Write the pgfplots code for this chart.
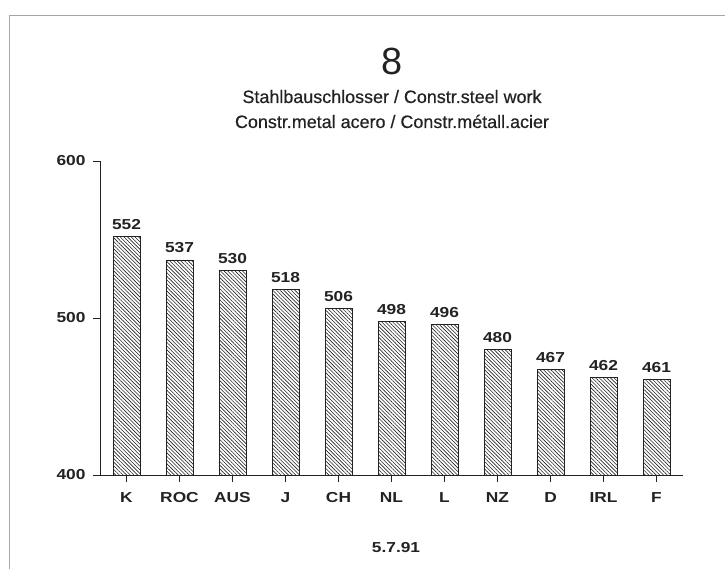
\documentclass[border=0pt]{standalone}
\usepackage{fontspec}
\setmainfont{Liberation Sans}
\newfontfamily\labfont[FakeStretch=1.2]{Liberation Sans}
\newfontfamily\subfont[FakeBold=0.5]{Liberation Sans}
\usepackage{pgfplots}
\pgfplotsset{compat=1.18}
\usetikzlibrary{patterns.meta}
\definecolor{ink}{HTML}{222222}

\begin{document}
\begin{tikzpicture}[x=1bp,y=1bp]
\path[use as bounding box] (0,0) rectangle (725,569);
\draw[gray!70, line width=0.8bp] (9,0) -- (9,554) -- (725,554);
\node[anchor=base, inner sep=0pt, font=\fontsize{38}{40}\selectfont, text=ink] at (392,494) {8};
\node[anchor=base, inner sep=0pt, font=\subfont\fontsize{18}{20}\selectfont, text=ink] at (392,466) {Stahlbauschlosser / Constr.steel work};
\node[anchor=base, inner sep=0pt, font=\subfont\fontsize{18}{20}\selectfont, text=ink] at (392,441) {Constr.metal acero / Constr.métall.acier};
\node[anchor=base, inner sep=0pt, font=\labfont\bfseries\fontsize{14.5}{16}\selectfont, text=ink] at (396,16) {5.7.91};
\begin{axis}[
  at={(100bp,94bp)}, anchor=south west,
  scale only axis, width=583bp, height=314bp,
  xmin=-0.5, xmax=10.5, ymin=400, ymax=600,
  axis x line=bottom, axis y line=left,
  axis line style={draw=ink, line width=0.8bp, -},
  ytick={400,500,600},
  xtick=data, xticklabels={K,ROC,AUS,J,CH,NL,L,NZ,D,IRL,F},
  tick align=outside, major tick length=7bp,
  tick style={draw=ink, line width=0.8bp},
  /pgf/number format/assume math mode=true,
  ticklabel style={text=ink, font=\labfont\bfseries\fontsize{14.5}{16}\selectfont},
  xticklabel style={anchor=base, yshift=-21bp},
  yticklabel style={anchor=east, xshift=-4bp},
  ybar, bar width=27bp,
  nodes near coords,
  every node near coord/.append style={anchor=base, yshift=7bp, text=ink, inner sep=0pt,
     font=\labfont\bfseries\fontsize{14.5}{16}\selectfont},
  clip=true,
]
\addplot[draw=ink, line width=0.8bp,
  pattern={Lines[angle=-45,distance=2.6bp,line width=0.6bp]}, pattern color=ink]
  coordinates {(0,552) (1,537) (2,530) (3,518) (4,506) (5,498) (6,496) (7,480) (8,467) (9,462) (10,461)};
\end{axis}
\end{tikzpicture}
\end{document}
